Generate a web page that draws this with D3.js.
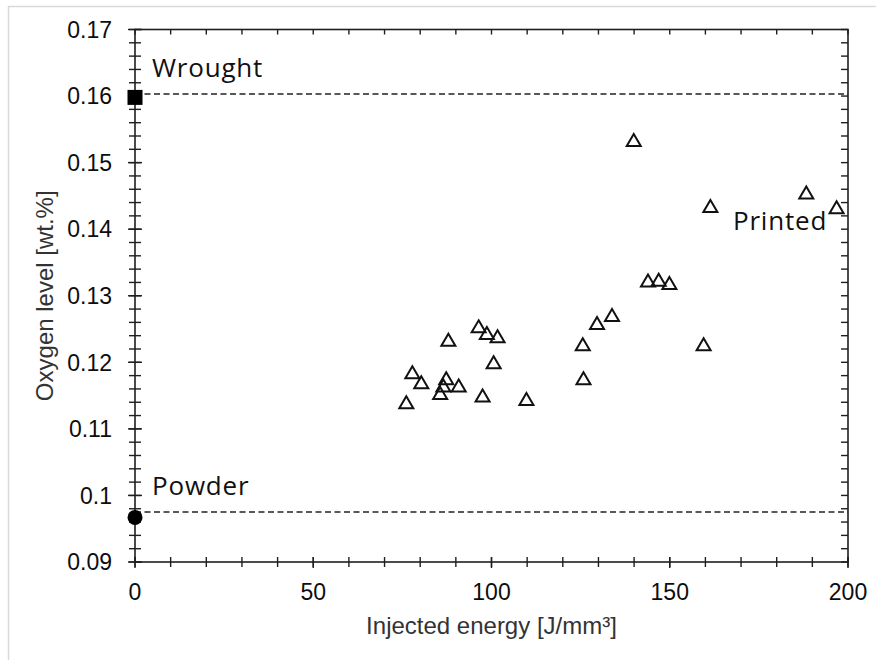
<!DOCTYPE html>
<html>
<head>
<meta charset="utf-8">
<script src="https://cdn.jsdelivr.net/npm/d3@7/dist/d3.min.js"></script>
<style>
  html, body { margin: 0; padding: 0; background: #fff; }
  svg { display: block; }
</style>
</head>
<body>
<svg id="chart" width="876" height="660"></svg>
<script>
// Injected energy [J/mm³] and oxygen content [wt.%] of the printed samples
const energy = [76.1, 77.8, 80.3, 87.9, 87.3, 86.5, 85.6, 90.8, 96.4, 98.7, 101.7, 100.6, 97.5,
                109.8, 129.6, 133.8, 125.6, 125.8, 159.5, 143.9, 146.9, 149.9, 139.9, 161.4, 188.3, 196.8];
const oxygen = [0.1140, 0.1185, 0.1170, 0.1234, 0.1176, 0.1165, 0.1154, 0.1165, 0.1254, 0.1244, 0.1239, 0.1200, 0.1150,
                0.1145, 0.1259, 0.1271, 0.1227, 0.1176, 0.1227, 0.1323, 0.1324, 0.1319, 0.1534, 0.1435, 0.1455, 0.1433];

// Reference materials: wrought bar and feedstock powder
const refNames = ["Wrought", "Powder"];
const refMarkerOxygen = [0.1598, 0.0967];
const refLineOxygen = [0.1603, 0.0975];

// Axis ticks
const xMajorTicks = [0, 50, 100, 150, 200];
const xMinorTicks = [0, 10, 20, 30, 40, 50, 60, 70, 80, 90, 100, 110, 120, 130, 140, 150, 160, 170, 180, 190, 200];
const yMajorTicks = [0.09, 0.10, 0.11, 0.12, 0.13, 0.14, 0.15, 0.16, 0.17];
const yTickLabels = ["0.09", "0.1", "0.11", "0.12", "0.13", "0.14", "0.15", "0.16", "0.17"];
const yMinorStep = 0.002;

const svg = d3.select("#chart");

// page frame
svg.append("line").attr("x1", 8.5).attr("x2", 8.5).attr("y1", 6).attr("y2", 660)
  .attr("stroke", "#d9d9d9").attr("stroke-width", 1.5);
svg.append("line").attr("x1", 8).attr("x2", 876).attr("y1", 6.5).attr("y2", 6.5)
  .attr("stroke", "#d9d9d9").attr("stroke-width", 1.5);

const plot = { left: 135, right: 848, top: 29.5, bottom: 562 };

const x = d3.scaleLinear().domain([0, 200]).range([plot.left, plot.right]);
const y = d3.scaleLinear().domain([0.09, 0.17]).range([plot.bottom, plot.top]);

const axisColor = "#1f1f1f";
const g = svg.append("g");

// minor y ticks (every 0.002)
const yMinor = d3.range(0, 41).map(i => 0.09 + i * yMinorStep);

// left axis ticks cross the axis line
g.selectAll(".ytl").data(yMinor).join("line")
  .attr("x1", plot.left - 6).attr("x2", plot.left + 6)
  .attr("y1", d => y(d)).attr("y2", d => y(d))
  .attr("stroke", axisColor).attr("stroke-width", 1.4);
g.selectAll(".ytlm").data(yMajorTicks).join("line")
  .attr("x1", plot.left - 7).attr("x2", plot.left + 7)
  .attr("y1", d => y(d)).attr("y2", d => y(d))
  .attr("stroke", axisColor).attr("stroke-width", 1.4);

// right axis ticks point inward
g.selectAll(".ytr").data(yMinor).join("line")
  .attr("x1", plot.right - 7).attr("x2", plot.right)
  .attr("y1", d => y(d)).attr("y2", d => y(d))
  .attr("stroke", axisColor).attr("stroke-width", 1.4);

// bottom axis ticks cross the axis line
g.selectAll(".xtb").data(xMinorTicks).join("line")
  .attr("x1", d => x(d)).attr("x2", d => x(d))
  .attr("y1", plot.bottom - 5).attr("y2", plot.bottom + 5)
  .attr("stroke", axisColor).attr("stroke-width", 1.4);
g.selectAll(".xtbm").data(xMajorTicks).join("line")
  .attr("x1", d => x(d)).attr("x2", d => x(d))
  .attr("y1", plot.bottom - 5).attr("y2", plot.bottom + 6)
  .attr("stroke", axisColor).attr("stroke-width", 1.4);

// top axis ticks point inward
g.selectAll(".xtt").data(xMinorTicks).join("line")
  .attr("x1", d => x(d)).attr("x2", d => x(d))
  .attr("y1", plot.top).attr("y2", plot.top + 5)
  .attr("stroke", axisColor).attr("stroke-width", 1.4);

// plot box
g.append("rect")
  .attr("x", plot.left).attr("y", plot.top)
  .attr("width", plot.right - plot.left).attr("height", plot.bottom - plot.top)
  .attr("fill", "none").attr("stroke", axisColor).attr("stroke-width", 1.6);

// tick labels
g.selectAll(".ylab").data(yMajorTicks).join("text")
  .attr("x", 112).attr("y", d => y(d))
  .attr("dy", "0.36em")
  .attr("text-anchor", "end")
  .attr("font-family", "'Liberation Sans', Arial, sans-serif")
  .attr("font-size", 23).attr("fill", "#0d0d0d")
  .text((d, i) => yTickLabels[i]);

g.selectAll(".xlab").data(xMajorTicks).join("text")
  .attr("x", d => x(d)).attr("y", 600)
  .attr("text-anchor", "middle")
  .attr("font-family", "'Liberation Sans', Arial, sans-serif")
  .attr("font-size", 23).attr("fill", "#0d0d0d")
  .text(d => d);

// axis titles
svg.append("text")
  .attr("x", (plot.left + plot.right) / 2).attr("y", 634)
  .attr("text-anchor", "middle")
  .attr("font-family", "'Liberation Sans', Arial, sans-serif")
  .attr("font-size", 24).attr("fill", "#333")
  .text("Injected energy [J/mm³]");

svg.append("text")
  .attr("transform", `translate(53,${(plot.top + plot.bottom) / 2}) rotate(-90)`)
  .attr("text-anchor", "middle")
  .attr("font-family", "'Liberation Sans', Arial, sans-serif")
  .attr("font-size", 24).attr("fill", "#333")
  .text("Oxygen level [wt.%]");

// reference levels as dashed lines
svg.selectAll(".refline").data(refLineOxygen).join("line")
  .attr("x1", x(0)).attr("x2", x(200))
  .attr("y1", d => y(d)).attr("y2", d => y(d))
  .attr("stroke", "#222").attr("stroke-width", 1.5)
  .attr("stroke-dasharray", "6,3.5");

// wrought marker (square) and powder marker (circle)
svg.append("rect")
  .attr("x", x(0) - 7.5).attr("y", y(refMarkerOxygen[0]) - 7.5)
  .attr("width", 15).attr("height", 15).attr("fill", "#000");
svg.append("circle")
  .attr("cx", x(0)).attr("cy", y(refMarkerOxygen[1])).attr("r", 7.5)
  .attr("fill", "#000");

// reference labels
const labelFont = "'Open Sans', 'Noto Sans', sans-serif";
const labels = [
  { text: refNames[0], x: 152, y: 77 },
  { text: refNames[1], x: 152, y: 495 },
  { text: "Printed", x: 733, y: 230 }
];
svg.selectAll(".lbl").data(labels).join("text")
  .attr("x", d => d.x).attr("y", d => d.y)
  .attr("font-family", labelFont).attr("font-size", 26).attr("letter-spacing", 0.8)
  .attr("fill", "#111").text(d => d.text);

// printed samples as open triangles
const tw = 14, th = 12;
const tri = `M0,${-th / 2}L${tw / 2},${th / 2}L${-tw / 2},${th / 2}Z`;
svg.selectAll(".pt").data(energy.map((e, i) => [e, oxygen[i]])).join("path")
  .attr("d", tri)
  .attr("transform", d => `translate(${x(d[0])},${y(d[1])})`)
  .attr("fill", "none").attr("stroke", "#111").attr("stroke-width", 2)
  .attr("stroke-linejoin", "miter");
</script>
</body>
</html>
